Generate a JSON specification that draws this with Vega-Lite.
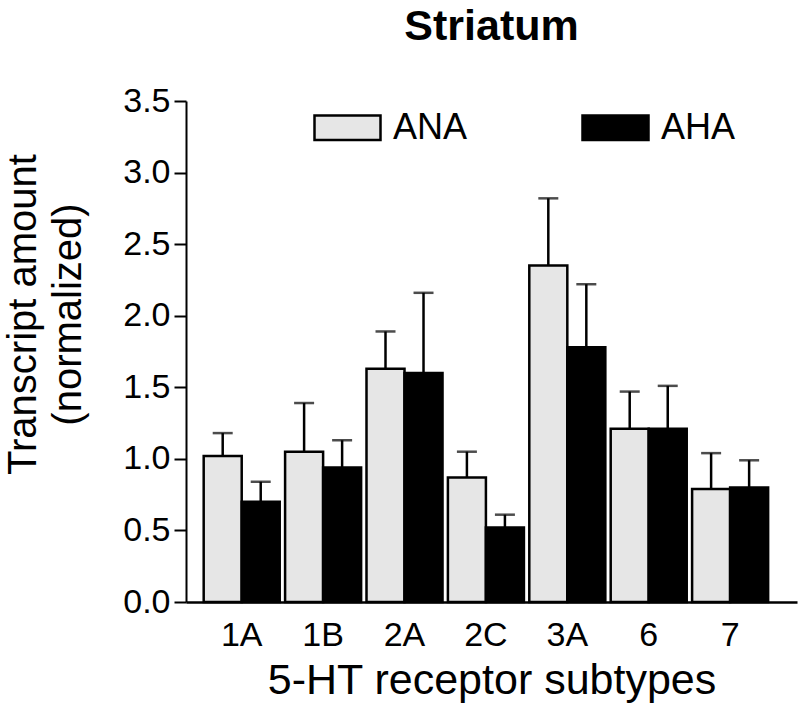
{
  "$schema": "https://vega.github.io/schema/vega-lite/v6.json",
  "width": 611,
  "height": 501,
  "autosize": {"type": "none"},
  "padding": {"left": 186, "top": 101, "right": 3, "bottom": 117},
  "background": "white",
  "config": {
    "font": "Liberation Sans",
    "view": {"stroke": null},
    "axis": {"labelColor": "black", "titleColor": "black", "domainColor": "black", "tickColor": "black", "grid": false}
  },
  "title": {
    "text": "Striatum",
    "fontSize": 43,
    "fontWeight": "bold",
    "font": "Liberation Sans",
    "color": "black",
    "anchor": "middle",
    "offset": 35
  },
  "data": {
    "values": [
      {"subtype": "1A", "group": "ANA", "value": 1.02, "upper": 1.18},
      {"subtype": "1A", "group": "AHA", "value": 0.70, "upper": 0.84},
      {"subtype": "1B", "group": "ANA", "value": 1.05, "upper": 1.39},
      {"subtype": "1B", "group": "AHA", "value": 0.94, "upper": 1.13},
      {"subtype": "2A", "group": "ANA", "value": 1.63, "upper": 1.89},
      {"subtype": "2A", "group": "AHA", "value": 1.60, "upper": 2.16},
      {"subtype": "2C", "group": "ANA", "value": 0.87, "upper": 1.05},
      {"subtype": "2C", "group": "AHA", "value": 0.52, "upper": 0.61},
      {"subtype": "3A", "group": "ANA", "value": 2.35, "upper": 2.82},
      {"subtype": "3A", "group": "AHA", "value": 1.78, "upper": 2.22},
      {"subtype": "6", "group": "ANA", "value": 1.21, "upper": 1.47},
      {"subtype": "6", "group": "AHA", "value": 1.21, "upper": 1.51},
      {"subtype": "7", "group": "ANA", "value": 0.79, "upper": 1.04},
      {"subtype": "7", "group": "AHA", "value": 0.80, "upper": 0.99}
    ]
  },
  "encoding": {
    "x": {
      "field": "subtype",
      "type": "nominal",
      "sort": ["1A", "1B", "2A", "2C", "3A", "6", "7"],
      "scale": {"paddingInner": 0.066, "paddingOuter": 0.286, "align": 0.38},
      "axis": {
        "title": "5-HT receptor subtypes",
        "labelAngle": 0,
        "labelFontSize": 34,
        "labelPadding": 16,
        "ticks": false,
        "domainWidth": 2.5,
        "titleFontSize": 43,
        "titleFontWeight": "normal",
        "titlePadding": 7
      }
    },
    "xOffset": {
      "field": "group",
      "type": "nominal",
      "sort": ["ANA", "AHA"],
      "scale": {"paddingInner": 0, "paddingOuter": 0}
    }
  },
  "layer": [
    {
      "mark": {"type": "bar", "stroke": "black", "strokeWidth": 2.5},
      "encoding": {
        "y": {
          "field": "value",
          "type": "quantitative",
          "scale": {"domain": [0, 3.5], "nice": false},
          "axis": {
            "title": ["Transcript amount", "(normalized)"],
            "values": [0, 0.5, 1, 1.5, 2, 2.5, 3, 3.5],
            "format": ".1f",
            "labelFontSize": 34,
            "labelPadding": 4,
            "tickSize": 12,
            "tickWidth": 2,
            "domainWidth": 2,
            "titleFontSize": 40,
            "titleFontWeight": "normal",
            "titleLineHeight": 45,
            "titleAngle": -90,
            "titleBaseline": "bottom",
            "titleAnchor": "middle",
            "titleX": -143,
            "titleY": 213
          }
        },
        "color": {
          "field": "group",
          "type": "nominal",
          "sort": ["ANA", "AHA"],
          "scale": {"domain": ["ANA", "AHA"], "range": ["#e6e6e6", "#000000"]},
          "legend": {
            "title": null,
            "orient": "none",
            "legendX": 127,
            "legendY": -8,
            "direction": "horizontal",
            "columns": 2,
            "columnPadding": 109,
            "symbolType": "M-1,-0.37H1V0.37H-1Z",
            "symbolSize": 4356,
            "symbolStrokeColor": "black",
            "symbolStrokeWidth": 2.5,
            "symbolOpacity": 1,
            "labelFontSize": 36,
            "labelOffset": 11,
            "labelColor": "black",
            "padding": 0
          }
        }
      }
    },
    {
      "mark": {"type": "rule", "color": "black", "strokeWidth": 2.5},
      "encoding": {
        "y": {"field": "value", "type": "quantitative"},
        "y2": {"field": "upper"}
      }
    },
    {
      "mark": {"type": "tick", "color": "black", "thickness": 2.5, "size": 20, "orient": "horizontal"},
      "encoding": {
        "y": {"field": "upper", "type": "quantitative"}
      }
    }
  ]
}
